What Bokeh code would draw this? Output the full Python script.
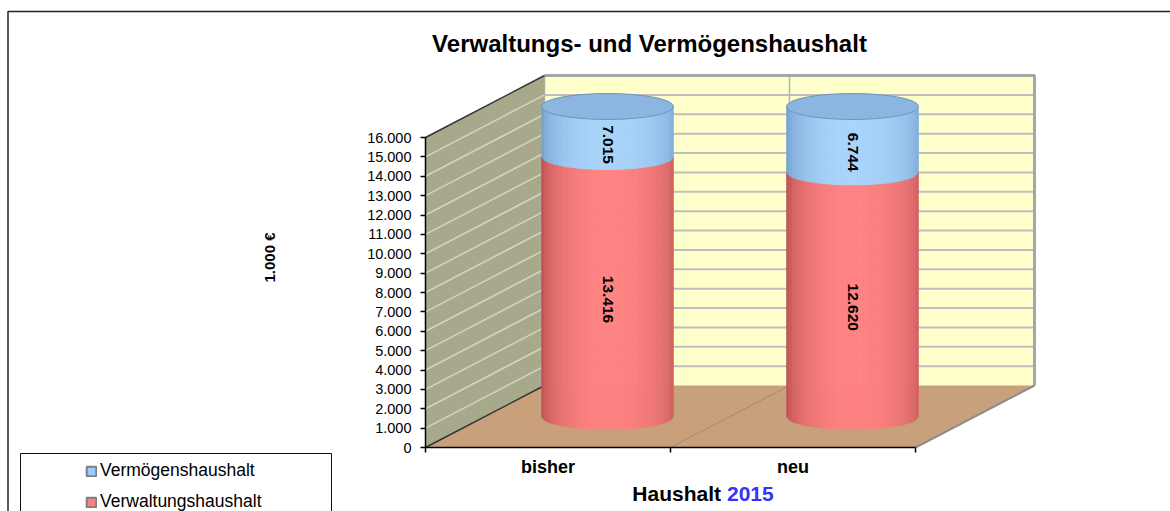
import numpy as np
from bokeh.plotting import figure
from bokeh.models import (Range1d, LinearAxis, FixedTicker, CustomJSTickFormatter,
                          Legend, LegendItem)
from bokeh.core.properties import value
from bokeh.embed import file_html
from bokeh.resources import INLINE

# ---------------- data ----------------
categories = ["bisher", "neu"]
verwaltung = [13416, 12620]          # Verwaltungshaushalt (1.000 €)
vermoegen = [7015, 6744]             # Vermögenshaushalt (1.000 €)
series_names = ["Vermögenshaushalt", "Verwaltungshaushalt"]
y_ticks = list(range(0, 16001, 1000))
y_max = 16000
title_text = "Verwaltungs- und Vermögenshaushalt"
x_title = "Haushalt"
x_title_year = "2015"
y_title = "1.000 €"

# ---------------- layout (page pixels) ----------------
W, H = 1170, 511
OFF = 0
FRAME_TOP, FRAME_BOT = OFF, OFF + H
Y0, Y_TOP = 447, 137          # front plane: y of 0 and of y_max
X0, X1 = 425, 915             # front plane x extent
DX, DY = 119, 62              # depth offset
k = (Y0 - Y_TOP) / y_max
DV = DY / k
vtop = (Y0 - FRAME_TOP) / k
vbot = (Y0 - FRAME_BOT) / k
FONT = "Liberation Sans"

p = figure(width=W, height=H, x_range=Range1d(OFF, OFF + W), y_range=Range1d(vbot, vtop),
           output_backend="svg", toolbar_location=None, min_border=0,
           x_axis_location=None, y_axis_location=None)
p.outline_line_color = None
p.background_fill_color = "white"
p.border_fill_color = "white"
p.grid.visible = False
p.extra_y_ranges = {"px": Range1d(FRAME_BOT, FRAME_TOP)}

ncat = len(categories)
cat_w = (X1 - X0) / ncat
divs = [X0 + i * cat_w for i in range(ncat + 1)]
centers = [X0 + (i + 0.5) * cat_w for i in range(ncat)]
inner = y_ticks[1:]

# back wall
p.patch([X0 + DX, X1 + DX, X1 + DX, X0 + DX], [DV, DV, y_max + DV, y_max + DV],
        fill_color="#FFFFCC", line_color=None)
p.segment(x0=[X0 + DX] * len(inner), y0=[t + DV for t in inner],
          x1=[X1 + DX] * len(inner), y1=[t + DV for t in inner],
          line_color="#BEBEBE", line_width=2)
p.segment(x0=[d + DX for d in divs[:-1]], y0=[DV] * ncat,
          x1=[d + DX for d in divs[:-1]], y1=[y_max + DV] * ncat,
          line_color="#B4B4B4", line_width=1.5)
p.line([X0 + DX, X1 + DX, X1 + DX], [y_max + DV, y_max + DV, DV],
       line_color="#A6A6A6", line_width=3)

# left wall
p.patch([X0, X0, X0 + DX, X0 + DX], [0, y_max, y_max + DV, DV],
        fill_color="#A8A88A", line_color=None)
mid_ticks = y_ticks[1:-1]
p.segment(x0=[X0] * len(mid_ticks), y0=mid_ticks,
          x1=[X0 + DX] * len(mid_ticks), y1=[t + DV for t in mid_ticks],
          line_color="#D2D2C8", line_width=1.6)
p.line([X0, X0 + DX], [y_max, y_max + DV], line_color="#333333", line_width=1.5)

# floor
p.patch([X0, X1, X1 + DX, X0 + DX], [0, 0, DV, DV], fill_color="#C8A07C", line_color=None)
p.segment(x0=divs[1:-1], y0=[0] * (ncat - 1), x1=[d + DX for d in divs[1:-1]],
          y1=[DV] * (ncat - 1), line_color="#A88A6C", line_width=1)
p.line([X0, X0 + DX], [0, DV], line_color="#333333", line_width=1.5)
p.line([X1, X1 + DX], [0, DV], line_color="#8C8C8C", line_width=2)


# cylinders
def h2r(h):
    h = h.lstrip("#")
    return np.array([int(h[i:i + 2], 16) for i in (0, 2, 4)], dtype=float)


def shade(t, left, mid, right):
    s = np.sin(np.pi * t) ** 0.45
    edge = h2r(left) if t < 0.5 else h2r(right)
    c = edge + (h2r(mid) - edge) * s
    return "#%02x%02x%02x" % tuple(int(round(v)) for v in c)


R = 66
EH = 13 / k
N = 44
RED = ("#B04848", "#FF8282", "#C45A5A")
BLUE = ("#6A96CA", "#A8D4FB", "#7AA6D6")
label_x, label_y, label_t = [], [], []
for i in range(ncat):
    cx = centers[i] + DX / 2
    base = DV / 2
    v1 = verwaltung[i]
    vt = min(v1 + vermoegen[i], y_max)
    for (a, b, pal) in [(0, v1, RED), (v1, vt, BLUE)]:
        xs, ys, cols = [], [], []
        for j in range(N):
            xa = cx - R + 2 * R * j / N
            xb = cx - R + 2 * R * (j + 1) / N
            aa = EH * np.sqrt(max(0.0, 1 - ((xa - cx) / R) ** 2))
            ab = EH * np.sqrt(max(0.0, 1 - ((xb - cx) / R) ** 2))
            xs.append([xa, xb, xb, xa])
            ys.append([base + a - aa, base + a - ab, base + b - ab, base + b - aa])
            cols.append(shade((j + 0.5) / N, *pal))
        p.patches(xs, ys, fill_color=cols, line_color=cols, line_width=0.6)
    p.ellipse(x=[cx], y=[base + vt], width=2 * R, height=2 * EH,
              fill_color="#8DB5E2", line_color="#7092BC", line_width=1)
    label_x += [cx, cx]
    label_y += [base + v1 / 2, base + (v1 + vt) / 2]
    label_t += [f"{verwaltung[i]:,}".replace(",", "."), f"{vermoegen[i]:,}".replace(",", ".")]

p.text(x=label_x, y=label_y, text=label_t, angle=-np.pi / 2, y_offset=13,
       text_align="center", text_baseline="middle", text_font=value(FONT),
       text_font_style="bold", text_font_size="15.5px", text_color="black")

# axes
yaxis = LinearAxis(ticker=FixedTicker(ticks=y_ticks),
                   formatter=CustomJSTickFormatter(
                       code=r"return tick.toFixed(0).replace(/\B(?=(\d{3})+(?!\d))/g, '.');"),
                   fixed_location=X0, bounds=(0, y_max))
yaxis.axis_line_color = "black"
yaxis.axis_line_width = 1.5
yaxis.major_tick_line_color = "black"
yaxis.major_tick_line_width = 1.5
yaxis.major_tick_out = 5
yaxis.major_tick_in = 0
yaxis.minor_tick_out = 0
yaxis.minor_tick_in = 0
yaxis.major_label_standoff = 9
yaxis.major_label_text_font = FONT
yaxis.major_label_text_font_size = "14.5px"
yaxis.major_label_text_color = "black"
p.add_layout(yaxis, "left")

xaxis = LinearAxis(ticker=FixedTicker(ticks=centers, minor_ticks=divs),
                   formatter=CustomJSTickFormatter(
                       args=dict(labels=categories, centers=centers),
                       code="let b = 0; for (let i = 0; i < centers.length; i++) {"
                            " if (Math.abs(centers[i] - tick) < Math.abs(centers[b] - tick)) b = i; }"
                            " return labels[b];"),
                   fixed_location=0, bounds=(X0, X1))
xaxis.axis_line_color = "black"
xaxis.axis_line_width = 1.5
xaxis.major_tick_out = 0
xaxis.major_tick_in = 0
xaxis.minor_tick_out = 5
xaxis.minor_tick_in = 0
xaxis.minor_tick_line_color = "black"
xaxis.minor_tick_line_width = 1.5
xaxis.major_label_standoff = 4
xaxis.major_label_text_font = FONT
xaxis.major_label_text_font_style = "bold"
xaxis.major_label_text_font_size = "18px"
xaxis.major_label_text_color = "black"
p.add_layout(xaxis, "below")

# chart border, title, axis titles
p.line([7.5, 7.5, OFF + W], [FRAME_BOT, 11, 11], y_range_name="px",
       line_color="#222222", line_width=1.5)
p.text(x=[649], y=[43], text=[title_text], y_range_name="px", text_align="center",
       text_baseline="middle", text_font=value(FONT), text_font_style="bold",
       text_font_size="24px", text_color="black")
p.text(x=[720.5], y=[493], text=[x_title], y_range_name="px", text_align="right",
       text_baseline="middle", text_font=value(FONT), text_font_style="bold",
       text_font_size="21px", text_color="black")
p.text(x=[726.5], y=[493], text=[x_title_year], y_range_name="px", text_align="left",
       text_baseline="middle", text_font=value(FONT), text_font_style="bold",
       text_font_size="21px", text_color="#3333FF")
p.text(x=[269], y=[257], text=[y_title], y_range_name="px", angle=np.pi / 2,
       text_align="center", text_baseline="middle", text_font=value(FONT),
       text_font_style="bold", text_font_size="15px", text_color="black")

# legend
p.quad(left=[20], right=[331], top=[453], bottom=[530], y_range_name="px",
       fill_color="white", line_color="#111111", line_width=1)
r_blue = p.rect(x=[np.nan], y=[np.nan], width=1, height=1, fill_color="#99CCFF",
                line_color="#7F7F7F", line_width=2)
r_red = p.rect(x=[np.nan], y=[np.nan], width=1, height=1, fill_color="#FF8080",
               line_color="#7F7F7F", line_width=2)
legend = Legend(items=[LegendItem(label=series_names[0], renderers=[r_blue]),
                       LegendItem(label=series_names[1], renderers=[r_red])],
                location=(85, -1), orientation="vertical", padding=0, margin=0,
                spacing=10, glyph_width=12, glyph_height=12, label_height=20,
                label_standoff=3, label_text_font=FONT, label_text_font_size="17.5px",
                label_text_color="black", border_line_alpha=0, background_fill_alpha=0)
p.add_layout(legend)

open("out.html", "w").write(file_html(p, INLINE))
